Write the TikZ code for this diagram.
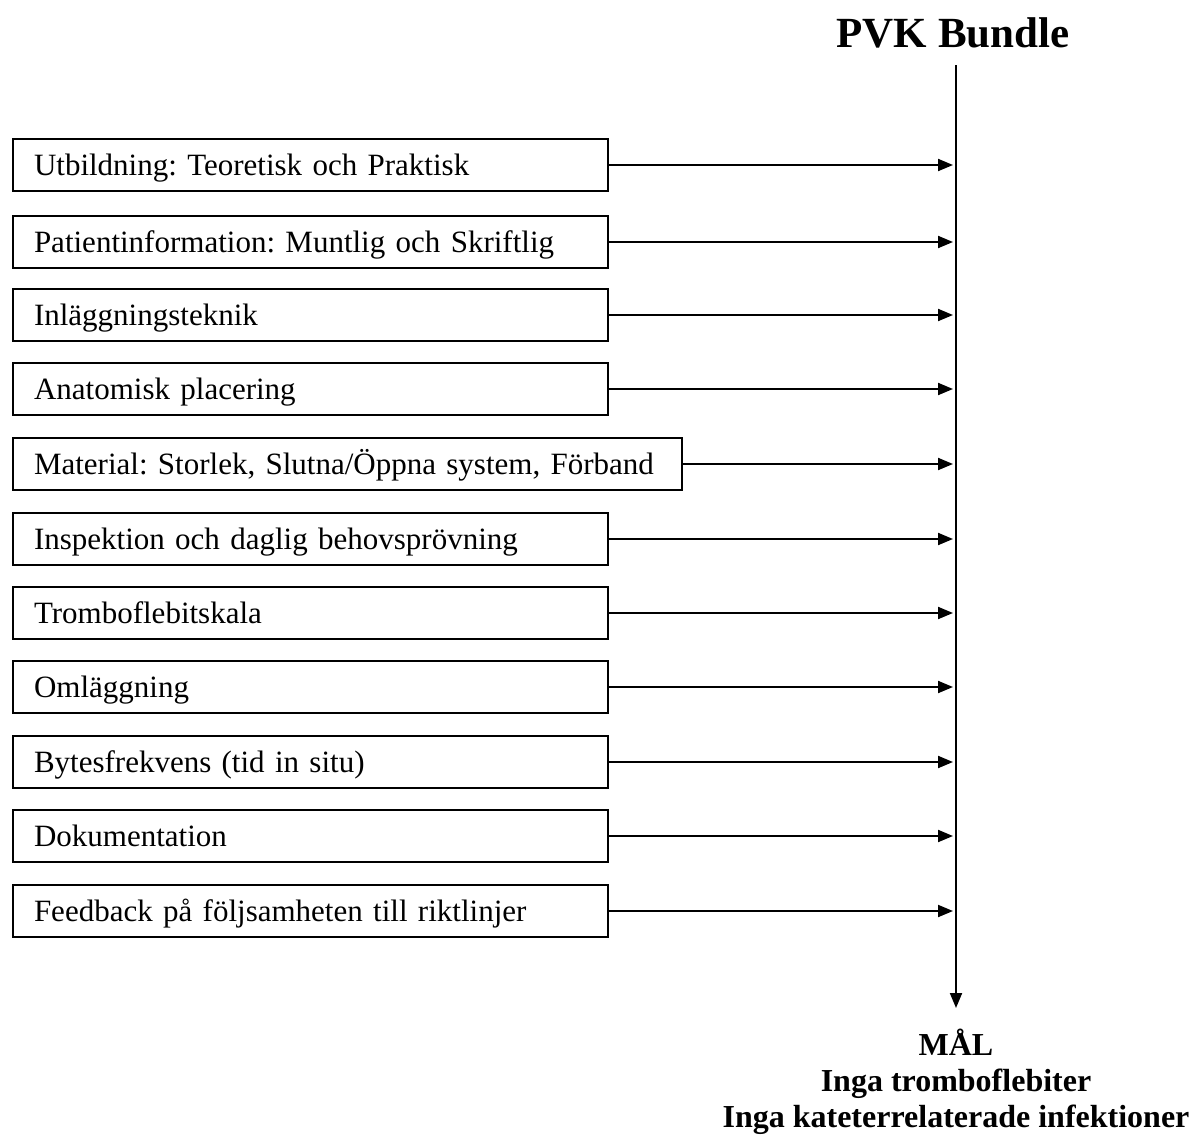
\documentclass[tikz,border=0pt]{standalone}
\usepackage{fontspec}
\setmainfont{Liberation Serif}
\usetikzlibrary{arrows.meta}
\tikzset{
  item/.style={draw, line width=1pt, anchor=west, minimum height=26pt, inner xsep=10.5pt,
    text height=11pt, text depth=1pt, text width=276.5pt, align=left,
    font=\fontsize{15.5}{18}\selectfont\frenchspacing},
  feed/.style={-{Triangle[length=7.5pt,width=6pt]}, line width=1pt},
}
\begin{document}
\begin{tikzpicture}[x=0.5pt,y=-0.5pt]
    \useasboundingbox (0,0) rectangle (1199,1135);
    \node[font=\fontsize{21.5}{26}\bfseries\selectfont] (title) at (953,33) {PVK Bundle};
    % spine of the bundle
    \coordinate (top) at (956,65);
    \coordinate (bot) at (956,1008);
    \draw[feed] (top) -- (bot);
    \node[item] (b1) at (12,165) {Utbildning: Teoretisk och Praktisk};
    \node[item] (b2) at (12,242) {Patientinformation: Muntlig och Skriftlig};
    \node[item] (b3) at (12,315) {Inläggningsteknik};
    \node[item] (b4) at (12,389) {Anatomisk placering};
    \node[item, text width=313.5pt] (b5) at (12,464) {Material: Storlek, Slutna/Öppna system, Förband};
    \node[item] (b6) at (12,539) {Inspektion och daglig behovsprövning};
    \node[item] (b7) at (12,613) {Tromboflebitskala};
    \node[item] (b8) at (12,687) {Omläggning};
    \node[item] (b9) at (12,762) {Bytesfrekvens (tid in situ)};
    \node[item] (b10) at (12,836) {Dokumentation};
    \node[item] (b11) at (12,911) {Feedback på följsamheten till riktlinjer};
    \draw[feed, shorten >=1.5pt] (b1.east) -- (b1.east -| top);
    \draw[feed, shorten >=1.5pt] (b2.east) -- (b2.east -| top);
    \draw[feed, shorten >=1.5pt] (b3.east) -- (b3.east -| top);
    \draw[feed, shorten >=1.5pt] (b4.east) -- (b4.east -| top);
    \draw[feed, shorten >=1.5pt] (b5.east) -- (b5.east -| top);
    \draw[feed, shorten >=1.5pt] (b6.east) -- (b6.east -| top);
    \draw[feed, shorten >=1.5pt] (b7.east) -- (b7.east -| top);
    \draw[feed, shorten >=1.5pt] (b8.east) -- (b8.east -| top);
    \draw[feed, shorten >=1.5pt] (b9.east) -- (b9.east -| top);
    \draw[feed, shorten >=1.5pt] (b10.east) -- (b10.east -| top);
    \draw[feed, shorten >=1.5pt] (b11.east) -- (b11.east -| top);
    \node[align=center, font=\fontsize{16}{18}\bfseries\selectfont] (goal) at (956,1082)
        {MÅL\\Inga tromboflebiter\\Inga kateterrelaterade infektioner};
\end{tikzpicture}
\end{document}
